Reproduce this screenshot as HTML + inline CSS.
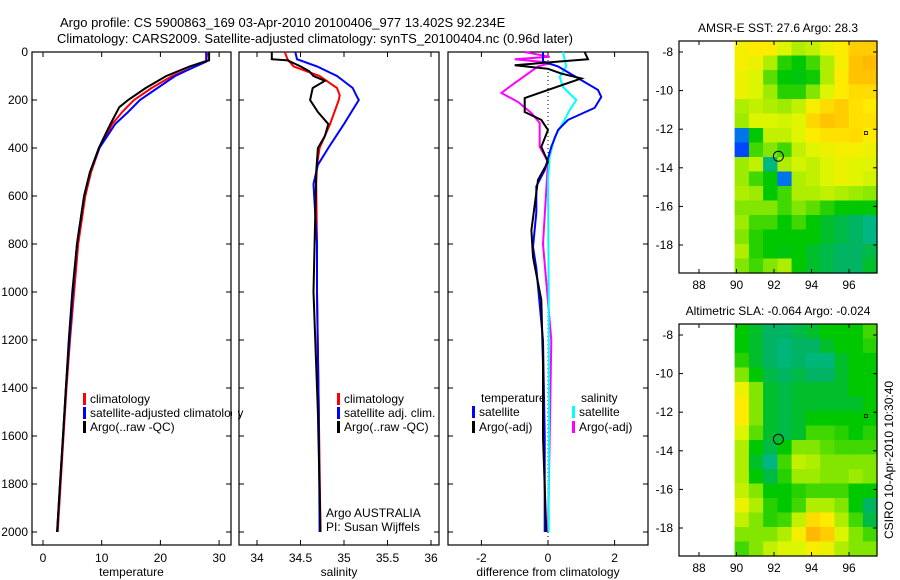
<!DOCTYPE html>
<html><head><meta charset="utf-8">
<style>
html,body{margin:0;padding:0;background:#fff;}
svg{display:block;font-family:"Liberation Sans",sans-serif;}
</style></head>
<body>
<svg id="fig" width="900" height="580" viewBox="0 0 900 580" xmlns="http://www.w3.org/2000/svg">
<text x="60" y="27" font-size="13">Argo profile: CS 5900863_169 03-Apr-2010 20100406_977 13.402S 92.234E</text>
<text x="57" y="43" font-size="13">Climatology: CARS2009. Satellite-adjusted climatology: synTS_20100404.nc (0.96d later)</text>
<g id="g1"></g>
<g id="g2"></g>
<g id="g3"></g>
<g id="m1"></g>
<g id="m2"></g>
<text transform="translate(893,460) rotate(-90)" text-anchor="middle" font-size="12">CSIRO 10-Apr-2010 10:30:40</text>
</svg>
<script>
// ---- profile data ----
const tDepthArgo=[0,35,40,60,100,150,200,230,300,350,400,500,600,800,1000,1200,1400,1600,1800,2000];
const tArgo=[28.3,28.3,27.5,25,21,17.5,14.5,13,11.5,10.5,9.5,8,7,5.8,5,4.4,3.9,3.4,2.9,2.4];
const tDepthClim=[0,40,60,100,150,200,250,300,400,500,600,800,1000,1200,1400,1600,1800,2000];
const tClim=[28,27.8,26,22,18.5,15.5,13.5,11.8,9.6,8.2,7.2,6,5.3,4.6,4,3.5,3,2.5];
const tSat=[27.8,27.8,26,22.5,19.5,16.5,14.5,12.3,9.6,8,7,5.8,5.1,4.5,3.9,3.4,2.9,2.4];
const sDepthArgo=[0,30,35,60,80,100,120,150,200,250,300,350,400,500,1000,1500,2000];
const sArgo=[34.17,34.17,34.35,34.5,34.6,34.65,34.78,34.64,34.61,34.7,34.82,34.78,34.7,34.68,34.65,34.7,34.73];
const sDepthClim=[0,30,60,100,150,180,200,300,400,470,550,800,1000,1500,2000];
const sClim=[34.32,34.35,34.42,34.72,34.92,34.95,34.94,34.84,34.72,34.69,34.68,34.69,34.69,34.71,34.73];
const sSat=[34.44,34.46,34.69,34.92,35.1,35.14,35.17,35.0,34.82,34.7,34.65,34.69,34.69,34.71,34.72];
const dDepthTA=[0,30,40,55,70,90,110,158,192,250,283,325,395,458,533,742,854,1033,1300,1604,2000];
const dTArgo=[1.1,1.2,0.3,-1.0,0.0,0.4,1.0,0.0,-0.7,-0.7,-0.2,0.0,-0.2,0.0,-0.3,-0.5,-0.45,-0.2,-0.15,-0.15,-0.05];
const dDepthTS=[0,40,60,117,158,187,233,283,325,395,492,560,670,812,900,1200,1600,2000];
const dTSat=[-0.15,-0.15,0.3,1.0,1.5,1.6,1.4,0.6,0.3,0.1,-0.1,-0.35,-0.35,-0.45,-0.35,-0.15,-0.1,-0.1];
const dDepthSS=[0,60,104,146,200,242,283,354,437,533,1000,1500,2000];
const dSSat=[0.45,0.55,0.35,0.45,0.85,0.65,0.5,0.2,0.05,0,0.02,0.03,0.02];
const dDepthSA=[0,20,30,45,60,129,171,208,254,296,395,458,800,1200,1600,2000];
const dSArgo=[-0.7,0.05,-1.0,0.1,-0.3,-1.0,-1.4,-0.9,-0.5,-0.25,-0.25,0,-0.15,0.1,0.05,0];

// ---- map data (values 0..1 on colour scale), rows north->south, cols west->east from 90E ----
const sstGrid=[
[0.7,0.72,0.72,0.65,0.6,0.62,0.68,0.72,0.78,0.78],
[0.7,0.68,0.6,0.48,0.45,0.5,0.6,0.7,0.8,0.82],
[0.68,0.65,0.52,0.45,0.44,0.46,0.6,0.72,0.8,0.8],
[0.68,0.65,0.58,0.48,0.48,0.55,0.65,0.72,0.75,0.75],
[0.6,0.62,0.6,0.58,0.62,0.7,0.75,0.78,0.74,0.72],
[0.58,0.65,0.65,0.64,0.66,0.76,0.8,0.78,0.74,0.74],
[0.2,0.45,0.62,0.62,0.66,0.72,0.74,0.74,0.75,0.72],
[0.15,0.5,0.55,0.5,0.62,0.66,0.68,0.7,0.7,0.68],
[0.58,0.62,0.35,0.6,0.64,0.62,0.65,0.68,0.66,0.66],
[0.58,0.5,0.45,0.2,0.6,0.62,0.65,0.68,0.66,0.64],
[0.6,0.58,0.45,0.5,0.6,0.6,0.62,0.6,0.58,0.56],
[0.55,0.55,0.55,0.5,0.55,0.52,0.48,0.45,0.45,0.45],
[0.58,0.5,0.5,0.45,0.5,0.45,0.42,0.4,0.38,0.35],
[0.55,0.48,0.45,0.45,0.45,0.45,0.42,0.4,0.38,0.35],
[0.6,0.48,0.45,0.44,0.45,0.42,0.4,0.38,0.38,0.4],
[0.55,0.5,0.55,0.6,0.45,0.42,0.4,0.38,0.38,0.42]];
const slaGrid=[
[0.45,0.42,0.38,0.38,0.4,0.42,0.45,0.45,0.45,0.5],
[0.45,0.42,0.38,0.36,0.38,0.38,0.42,0.45,0.45,0.48],
[0.48,0.42,0.38,0.36,0.38,0.36,0.36,0.42,0.45,0.45],
[0.55,0.45,0.4,0.38,0.4,0.38,0.38,0.42,0.45,0.45],
[0.68,0.55,0.42,0.4,0.42,0.42,0.42,0.42,0.45,0.45],
[0.72,0.55,0.42,0.4,0.42,0.42,0.42,0.42,0.42,0.45],
[0.72,0.55,0.42,0.4,0.42,0.45,0.45,0.45,0.45,0.45],
[0.65,0.52,0.42,0.4,0.42,0.5,0.5,0.48,0.45,0.48],
[0.6,0.45,0.4,0.45,0.55,0.55,0.52,0.5,0.5,0.5],
[0.6,0.42,0.35,0.5,0.62,0.6,0.55,0.55,0.55,0.55],
[0.6,0.45,0.4,0.48,0.58,0.58,0.55,0.55,0.58,0.55],
[0.62,0.55,0.45,0.45,0.48,0.5,0.5,0.5,0.45,0.45],
[0.68,0.6,0.48,0.45,0.5,0.6,0.6,0.55,0.45,0.38],
[0.62,0.55,0.48,0.5,0.62,0.75,0.72,0.6,0.5,0.4],
[0.55,0.55,0.55,0.6,0.7,0.82,0.78,0.65,0.55,0.5],
[0.5,0.55,0.62,0.65,0.65,0.7,0.68,0.6,0.55,0.55]];
const floatLon=92.234, floatLat=-13.402;
const depthTicks=[0,200,400,600,800,1000,1200,1400,1600,1800,2000];
const tempTicks=[0,10,20,30];
const salTicks=[34,34.5,35,35.5,36];
const diffTicks=[-2,0,2];
const lonTicks=[88,90,92,94,96];
const latTicks=[-8,-10,-12,-14,-16,-18];

const NS="http://www.w3.org/2000/svg";
function mk(parent,tag,attrs){const e=document.createElementNS(NS,tag);for(const k in attrs)e.setAttribute(k,attrs[k]);parent.appendChild(e);return e;}
const yD=d=>52+0.24*d;
function lineSeries(g,xs,ds,xf,color,name,w){
  const pts=xs.map((v,i)=>xf(v).toFixed(1)+","+yD(ds[i]).toFixed(1)).join(" ");
  const p=mk(g,"polyline",{points:pts,fill:"none",stroke:color,"stroke-width":w||2});
  
  
}
function panel(g,x0,x1,xf,ticks,fmt,xlabel,showY){
  const b=mk(g,"rect",{x:x0,y:52,width:x1-x0,height:493,fill:"none",stroke:"#000","stroke-width":1.2});
  
  
  ticks.forEach(t=>{const x=xf(t);
    mk(g,"line",{x1:x,x2:x,y1:545,y2:540,stroke:"#000"});
    mk(g,"line",{x1:x,x2:x,y1:52,y2:57,stroke:"#000"});
    const tx=mk(g,"text",{x:x,y:562,"font-size":12,"text-anchor":"middle"});tx.textContent=fmt(t);
    
    
  });
  depthTicks.forEach(d=>{const y=yD(d);
    mk(g,"line",{x1:x0,x2:x0+5,y1:y,y2:y,stroke:"#000"});
    mk(g,"line",{x1:x1,x2:x1-5,y1:y,y2:y,stroke:"#000"});
    if(showY){const tx=mk(g,"text",{x:x0-4,y:y+4,"font-size":12,"text-anchor":"end"});tx.textContent=d;
      
      }
  });
  const xl=mk(g,"text",{x:(x0+x1)/2,y:576,"font-size":12,"text-anchor":"middle"});xl.textContent=xlabel;
  
  
}
function legend(g,x,y,color,label){
  mk(g,"rect",{x:x,y:y-10,width:3,height:12,fill:color});
  const t=mk(g,"text",{x:x+7,y:y,"font-size":12});t.textContent=label;
  
  
}
function txt(g,x,y,s,name){const t=mk(g,"text",{x:x,y:y,"font-size":12});t.textContent=s;
  
  }

// temperature
const g1=document.getElementById('g1');
const xT=v=>43+5.87*v;
panel(g1,32,231,xT,tempTicks,v=>v,"temperature",true);
lineSeries(g1,tClim,tDepthClim,xT,"#ff0000","temp-climatology-line");
lineSeries(g1,tSat,tDepthClim,xT,"#0000ff","temp-satellite-line");
lineSeries(g1,tArgo,tDepthArgo,xT,"#000000","temp-argo-line");
legend(g1,83,403,"#f00","climatology");
legend(g1,83,417,"#00f","satellite-adjusted climatology");
legend(g1,83,431,"#000","Argo(..raw -QC)");
// mask legend overflow beyond panel: draw white cover right of panel
mk(g1,"rect",{x:232,y:405,width:6,height:15,fill:"#fff"});

// salinity
const g2=document.getElementById('g2');
const xS=v=>257+87*(v-34);
panel(g2,239,439,xS,salTicks,v=>v,"salinity",false);
lineSeries(g2,sClim,sDepthClim,xS,"#ff0000","sal-climatology-line");
lineSeries(g2,sSat,sDepthClim,xS,"#0000ff","sal-satellite-line");
lineSeries(g2,sArgo,sDepthArgo,xS,"#000000","sal-argo-line");
legend(g2,337,403,"#f00","climatology");
legend(g2,337,417,"#00f","satellite adj. clim.");
legend(g2,337,431,"#000","Argo(..raw -QC)");
txt(g2,326,517,"Argo AUSTRALIA","argo-australia-label");
txt(g2,326,531,"PI: Susan Wijffels","pi-label");

// difference
const g3=document.getElementById('g3');
const xDf=v=>548+33.3*v;
panel(g3,448,648,xDf,diffTicks,v=>v,"difference from climatology",false);
const zl=mk(g3,"line",{x1:xDf(0),x2:xDf(0),y1:52,y2:545,stroke:"#000","stroke-dasharray":"1,3"});


lineSeries(g3,dSArgo,dDepthSA,xDf,"#ff00ff","diff-sal-argo-line");
lineSeries(g3,dSSat,dDepthSS,xDf,"#00ffff","diff-sal-satellite-line");
lineSeries(g3,dTSat,dDepthTS,xDf,"#0000ff","diff-temp-satellite-line");
lineSeries(g3,dTArgo,dDepthTA,xDf,"#000000","diff-temp-argo-line");
txt(g3,481,402,"temperature","legend-temperature-header");
legend(g3,472,416,"#00f","satellite");
legend(g3,472,431,"#000","Argo(-adj)");
txt(g3,581,402,"salinity","legend-salinity-header");
legend(g3,572,416,"#0ff","satellite");
legend(g3,572,431,"#f0f","Argo(-adj)");

// maps
function cmap(v){
  const stops=[[0,[0,0,140]],[0.15,[0,70,255]],[0.28,[0,190,200]],[0.38,[0,180,100]],[0.45,[0,200,0]],[0.55,[130,230,0]],[0.65,[220,245,0]],[0.72,[255,235,0]],[0.82,[255,185,0]],[1,[255,60,0]]];
  for(let i=1;i<stops.length;i++){if(v<=stops[i][0]){const a=stops[i-1],b=stops[i];const f=(v-a[0])/(b[0]-a[0]);
    return "rgb("+a[1].map((c,k)=>Math.round(c+f*(b[1][k]-c))).join(",")+")";}}
  return "rgb(255,60,0)";
}
function mapPanel(g,top,grid,title){
  const lonX=l=>699+18.75*(l-88), latY=l=>top+11+19.3*(-8-l);
  const x0=679,x1=877,y0=top,y1=top+232;
  const tt=mk(g,"text",{x:(x0+x1)/2,y:top-9,"font-size":12,"text-anchor":"middle"});tt.textContent=title;
  
  
  const rows=grid.length, cols=grid[0].length;
  const lonW=(97.5-89.9)/cols, latH=(19.45-7.43)/rows;
  grid.forEach((row,r)=>row.forEach((v,c)=>{
    const xa=lonX(89.9+c*lonW), xb=lonX(89.9+(c+1)*lonW);
    const ya=latY(-7.43-r*latH), yb=latY(-7.43-(r+1)*latH);
    const cell=mk(g,"rect",{x:xa.toFixed(1),y:ya.toFixed(1),width:(Math.min(xb,x1)-xa+0.6).toFixed(1),height:(Math.min(yb,y1)-ya+0.6).toFixed(1),fill:cmap(v)});
    
    
  }));
  const bx=mk(g,"rect",{x:x0,y:y0,width:x1-x0,height:y1-y0,fill:"none",stroke:"#000","stroke-width":1.2});
  
  
  lonTicks.forEach(l=>{const x=lonX(l);
    mk(g,"line",{x1:x,x2:x,y1:y1,y2:y1-4,stroke:"#000"});mk(g,"line",{x1:x,x2:x,y1:y0,y2:y0+4,stroke:"#000"});
    const t=mk(g,"text",{x:x,y:y1+16,"font-size":12,"text-anchor":"middle"});t.textContent=l;
    
    });
  latTicks.forEach(l=>{const y=latY(l);
    mk(g,"line",{x1:x0,x2:x0+4,y1:y,y2:y,stroke:"#000"});mk(g,"line",{x1:x1,x2:x1-4,y1:y,y2:y,stroke:"#000"});
    const t=mk(g,"text",{x:x0-6,y:y+4,"font-size":12,"text-anchor":"end"});t.textContent=l;
    
    });
  const c=mk(g,"circle",{cx:lonX(floatLon),cy:latY(floatLat),r:5,fill:"none",stroke:"#000","stroke-width":1});
  
  
  mk(g,"rect",{x:lonX(96.9)-1.5,y:latY(-12.2)-1.5,width:3,height:3,fill:"none",stroke:"#000","stroke-width":0.8});
}
mapPanel(document.getElementById('m1'),41,sstGrid,"AMSR-E SST: 27.6 Argo: 28.3");
mapPanel(document.getElementById('m2'),324,slaGrid,"Altimetric SLA: -0.064 Argo: -0.024");
</script>
</body></html>
